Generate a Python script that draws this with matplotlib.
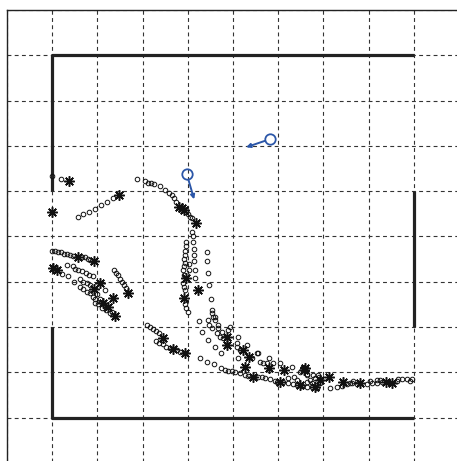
import matplotlib
matplotlib.use("Agg")
import matplotlib.pyplot as plt

# walls of the room (x, y)
wall_upper = ([1, 1, 9], [6, 9, 9])
wall_lower = ([1, 1, 9], [3, 1, 1])
wall_right = ([9, 9], [6, 3])

# open circles: positions along the trajectories
circ_x = [
    1.00, 1.19,
    1.57, 1.68, 1.81, 1.95, 2.08, 2.21, 2.35,
    2.88, 3.05, 3.12, 3.19, 3.25, 3.38, 3.50, 3.58, 3.65, 3.69, 3.74,
    3.96, 4.00, 4.05, 4.09,
    4.09, 4.12, 4.12, 4.14, 4.14, 4.14, 4.16, 4.16,
    4.42, 4.42, 4.45, 4.47, 4.51, 4.54, 4.60,
    3.96, 3.96, 3.94, 3.94, 3.92, 3.94, 3.92, 3.89, 3.92, 3.89, 3.92, 3.94,
    3.94, 3.96, 4.00, 4.03, 4.03,
    1.00, 1.06, 1.13, 1.19, 1.26, 1.33, 1.39, 1.46, 1.66, 1.73, 1.79, 1.84,
    1.22, 1.35, 1.48,
    1.33, 1.46, 1.50, 1.57, 1.66, 1.75, 1.81, 1.90, 2.17,
    1.62, 1.68, 1.77, 1.84, 1.99, 2.06, 2.32,
    1.62, 1.68, 1.77, 1.84, 1.90, 1.95, 1.95, 2.01, 2.10, 2.19, 2.28,
    2.37, 2.41, 2.46, 2.50, 2.54, 2.59, 2.63,
    3.10, 3.16, 3.23, 3.30, 3.36, 3.30, 3.36, 3.52, 3.61, 3.76, 3.83, 3.45,
    4.25, 4.45, 4.54, 4.56, 4.60, 4.31, 4.47, 4.54, 4.67, 4.67, 4.76, 4.65,
    4.71, 4.78, 4.45, 4.60, 4.73, 4.93, 5.11, 4.89, 5.09, 5.09, 5.15, 5.31,
    5.55, 5.80, 5.11, 5.42, 5.53, 5.60, 5.66, 5.75, 5.88, 6.04, 4.27, 4.42,
    4.58, 6.31, 6.48, 6.64, 6.77, 6.90, 6.35, 6.42, 6.64, 6.75, 6.92, 6.22,
    5.97, 6.86,
    4.73, 4.82, 4.89, 4.98, 5.04, 5.15, 5.27, 5.33, 5.55, 5.64, 5.71, 5.82,
    5.93, 6.11, 6.22, 6.33, 6.42, 6.53, 6.64, 6.75,
    7.15, 7.30, 7.41, 7.52, 7.63, 7.74, 7.96, 8.08, 8.19, 8.30, 8.63, 8.74,
    8.85, 8.96, 8.92, 6.64, 6.70, 6.81, 6.88, 7.59, 7.65, 8.03, 8.19, 8.25,
    8.65,
]
circ_y = [
    6.33, 6.26,
    5.44, 5.49, 5.53, 5.60, 5.69, 5.77, 5.84,
    6.26, 6.22, 6.19, 6.17, 6.15, 6.11, 6.02, 5.97, 5.91, 5.84, 5.77,
    5.53, 5.49, 5.44, 5.40,
    5.11, 5.00, 4.87, 4.73, 4.60, 4.45, 4.27, 4.09,
    4.65, 4.45, 4.20, 3.94, 3.63, 3.38, 3.23,
    4.87, 4.78, 4.69, 4.60, 4.51, 4.42, 4.34, 4.25, 4.16, 3.98, 3.89, 3.81,
    3.52, 3.43, 3.34, 4.40, 4.27,
    4.67, 4.67, 4.65, 4.65, 4.62, 4.62, 4.60, 4.58, 4.54, 4.54, 4.51, 4.49,
    4.18, 4.12, 4.00,
    4.36, 4.34, 4.29, 4.27, 4.23, 4.20, 4.16, 4.12, 3.81,
    4.07, 4.00, 3.98, 3.94, 3.72, 3.63, 3.34,
    3.89, 3.85, 3.78, 3.76, 3.67, 3.61, 3.54, 3.50, 3.43, 3.38, 3.32,
    4.27, 4.20, 4.14, 4.07, 4.00, 3.94, 3.87,
    3.05, 3.01, 2.96, 2.92, 2.88, 2.70, 2.65, 2.57, 2.54, 2.50, 2.46, 2.63,
    3.14, 3.16, 3.32, 3.23, 3.16, 2.90, 3.05, 2.99, 3.05, 2.99, 2.90, 2.88,
    2.79, 2.77, 2.72, 2.57, 2.43, 3.01, 2.79, 2.94, 2.65, 2.57, 2.50, 2.61,
    2.43, 2.32, 2.32, 2.32, 2.43, 2.23, 2.21, 2.21, 2.21, 2.21, 2.32, 2.23,
    2.19, 2.12, 2.01, 1.97, 1.95, 1.90, 1.90, 1.84, 1.79, 1.77, 1.77, 1.88,
    1.79, 1.66,
    2.10, 2.06, 2.04, 2.04, 2.01, 1.99, 1.95, 1.92, 1.90, 1.90, 1.88, 1.86,
    1.81, 1.79, 1.77, 1.75, 1.73, 1.70, 1.68, 1.68,
    1.66, 1.68, 1.70, 1.75, 1.77, 1.75, 1.75, 1.77, 1.77, 1.79, 1.81, 1.86,
    1.86, 1.86, 1.81, 1.95, 1.84, 1.88, 1.95, 1.77, 1.81, 1.81, 1.84, 1.84,
    1.86,
]

# asterisks: agent positions
star_x = [
    1.37, 1.00, 2.48,
    3.81, 3.87, 3.92, 4.18,
    3.96, 3.92, 4.23,
    1.57, 1.92, 1.02, 1.11, 2.06, 2.35, 1.92, 2.12, 2.23, 2.39, 2.68,
    3.45, 3.67, 3.94,
    4.87, 4.87, 5.22, 5.35, 5.27, 5.44, 5.80, 6.13, 6.57, 6.04, 6.48, 6.81,
    6.92, 7.12, 7.43, 7.81, 8.38, 8.52, 6.59,
]
star_y = [
    6.22, 5.53, 5.91,
    5.66, 5.62, 5.58, 5.29,
    4.09, 3.65, 3.81,
    4.54, 4.47, 4.31, 4.25, 3.98, 3.65, 3.85, 3.54, 3.45, 3.25, 3.76,
    2.77, 2.52, 2.43,
    2.79, 2.61, 2.50, 2.35, 2.12, 1.90, 2.10, 2.06, 2.06, 1.79, 1.73, 1.68,
    1.84, 1.90, 1.79, 1.77, 1.79, 1.77, 2.10,
]

# robots: position and heading end point
robot_x = [3.98, 5.82]
robot_y = [6.37, 7.15]
head_x = [4.14, 5.29]
head_y = [5.82, 6.97]

fig = plt.figure(figsize=(4.57, 4.61), dpi=100)
ax = fig.add_axes([7 / 457, -2 / 461, 452 / 457, 453 / 461])

ax.set_xlim(0, 10)
ax.set_ylim(0, 10)
ax.set_xticks(range(0, 11))
ax.set_yticks(range(0, 11))
ax.tick_params(length=0, labelbottom=False, labelleft=False)
ax.grid(True, color="#333333", linestyle=(0, (3.5, 3)), linewidth=0.8)
ax.set_axisbelow(True)
for side in ["left", "top"]:
    ax.spines[side].set_color("#222222")
    ax.spines[side].set_linewidth(1.0)

for wx, wy in [wall_upper, wall_lower, wall_right]:
    ax.plot(wx, wy, color="#222222", linewidth=2.3, solid_capstyle="butt")

ax.plot(circ_x, circ_y, linestyle="none", marker="o", markersize=3.3,
        markerfacecolor="none", markeredgecolor="#111111", markeredgewidth=0.7)
ax.plot(star_x, star_y, linestyle="none", marker=(8, 2, 0), markersize=7.5,
        color="#111111", markeredgewidth=1.1)

blue = "#2b56a8"
for rx, ry, hx, hy in zip(robot_x, robot_y, head_x, head_y):
    ax.annotate("", xy=(hx, hy), xytext=(rx, ry),
                arrowprops=dict(arrowstyle="-|>", color=blue, lw=1.4,
                                mutation_scale=6, shrinkA=4, shrinkB=0))
    ax.plot(rx, ry, marker="o", markersize=7.5, markerfacecolor="none",
            markeredgecolor=blue, markeredgewidth=1.3)

fig.savefig("out.png", dpi=100)
